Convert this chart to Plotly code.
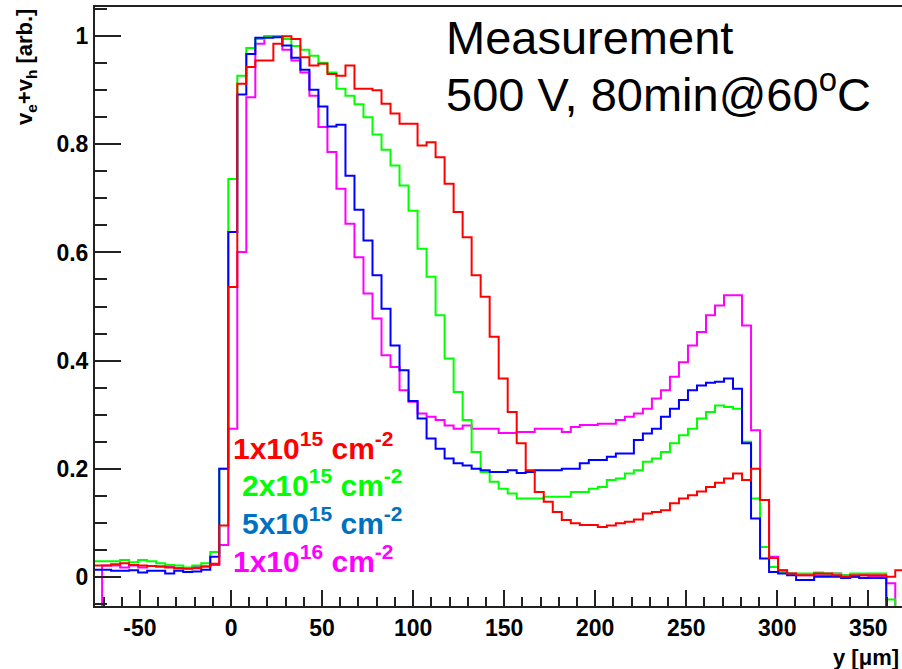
import numpy as np
import plotly.graph_objects as go

# histogram binning (y in micrometres)
BIN_LO = -75.75
BIN_WIDTH = 4.95

red_1e15 = [0.021, 0.021, 0.023, 0.025, 0.022, 0.021, 0.020, 0.019, 0.017, 0.016,
            0.015, 0.016, 0.019, 0.024, 0.095, 0.536, 0.912, 0.943, 0.955, 0.955,
            0.986, 1.000, 0.995, 0.961, 0.946, 0.949, 0.930, 0.927, 0.946, 0.903,
            0.903, 0.900, 0.875, 0.857, 0.838, 0.838, 0.798, 0.804, 0.776, 0.727,
            0.675, 0.628, 0.558, 0.518, 0.444, 0.367, 0.305, 0.247, 0.197, 0.157,
            0.139, 0.120, 0.105, 0.099, 0.096, 0.096, 0.092, 0.095, 0.099, 0.102,
            0.106, 0.117, 0.120, 0.123, 0.136, 0.145, 0.151, 0.158, 0.166, 0.174,
            0.182, 0.191, 0.179, 0.200, 0.142, 0.035, 0.012, 0.006, 0.003, 0.003,
            0.006, 0.006, 0.003, 0.000, 0.003, 0.003, 0.003, 0.003, 0.000, 0.012]

green_2e15 = [0.029, 0.029, 0.029, 0.031, 0.027, 0.031, 0.029, 0.025, 0.022, 0.021,
              0.017, 0.021, 0.025, 0.046, 0.200, 0.736, 0.927, 0.978, 0.995, 1.000,
              1.000, 0.995, 0.982, 0.975, 0.964, 0.951, 0.933, 0.903, 0.890, 0.874,
              0.850, 0.818, 0.790, 0.761, 0.724, 0.677, 0.607, 0.555, 0.484, 0.404,
              0.342, 0.290, 0.231, 0.194, 0.176, 0.163, 0.154, 0.145, 0.145, 0.145,
              0.148, 0.148, 0.148, 0.157, 0.157, 0.163, 0.166, 0.179, 0.182, 0.191,
              0.197, 0.213, 0.219, 0.231, 0.247, 0.262, 0.274, 0.293, 0.305, 0.317,
              0.314, 0.311, 0.250, 0.145, 0.055, 0.018, 0.009, 0.006, 0.006, 0.006,
              0.008, 0.006, 0.006, 0.003, 0.006, 0.006, 0.006, 0.006, -0.042, -0.100]

blue_5e15 = [0.013, 0.013, 0.011, 0.011, 0.012, 0.008, 0.011, 0.011, 0.006, 0.011,
             0.009, 0.010, 0.013, 0.037, 0.200, 0.638, 0.892, 0.967, 0.997, 0.997,
             0.998, 0.983, 0.960, 0.938, 0.901, 0.870, 0.833, 0.836, 0.742, 0.679,
             0.622, 0.558, 0.496, 0.428, 0.382, 0.325, 0.293, 0.256, 0.237, 0.219,
             0.210, 0.206, 0.200, 0.197, 0.194, 0.194, 0.197, 0.192, 0.194, 0.197,
             0.197, 0.197, 0.200, 0.200, 0.210, 0.216, 0.216, 0.222, 0.228, 0.228,
             0.253, 0.265, 0.274, 0.296, 0.311, 0.327, 0.345, 0.354, 0.359, 0.361,
             0.367, 0.348, 0.247, 0.108, 0.034, 0.009, 0.006, 0.003, -0.006, -0.006,
             0.000, 0.000, 0.000, -0.002, 0.000, -0.002, -0.002, -0.002, -0.100, -0.100]

magenta_1e16 = [-0.100, 0.021, 0.021, 0.017, 0.021, 0.017, 0.020, 0.019, 0.018, 0.016,
                0.016, 0.018, 0.019, 0.022, 0.059, 0.274, 0.601, 0.887, 0.986, 1.000,
                1.000, 0.975, 0.955, 0.933, 0.890, 0.832, 0.786, 0.718, 0.653, 0.591,
                0.524, 0.478, 0.410, 0.388, 0.345, 0.324, 0.302, 0.296, 0.290, 0.280,
                0.274, 0.280, 0.274, 0.274, 0.274, 0.266, 0.266, 0.268, 0.268, 0.274,
                0.274, 0.274, 0.268, 0.277, 0.281, 0.281, 0.283, 0.283, 0.290, 0.296,
                0.302, 0.311, 0.330, 0.345, 0.370, 0.397, 0.428, 0.453, 0.484, 0.502,
                0.521, 0.521, 0.465, 0.271, 0.142, 0.037, 0.012, 0.006, 0.003, 0.003,
                0.003, 0.003, 0.006, 0.003, 0.000, 0.003, 0.000, 0.000, -0.012, -0.100]

x_ticks = [-50, 0, 50, 100, 150, 200, 250, 300, 350]
x_tick_labels = ["-50", "0", "50", "100", "150", "200", "250", "300", "350"]
y_ticks = [0, 0.2, 0.4, 0.6, 0.8, 1.0]
y_tick_labels = ["0", "0.2", "0.4", "0.6", "0.8", "1"]

series = [
    ("1x10^16", magenta_1e16, "#FF00FF"),
    ("2x10^15", green_2e15, "#00FF00"),
    ("5x10^15", blue_5e15, "#0000FF"),
    ("1x10^15", red_1e15, "#FF0000"),
]

fig = go.Figure()
for name, vals, col in series:
    n = len(vals)
    edges = BIN_LO + BIN_WIDTH * np.arange(n + 1)
    yv = list(vals) + [vals[-1]]
    fig.add_trace(go.Scatter(x=edges, y=yv, mode="lines", line_shape="hv",
                             line=dict(color=col, width=2), name=name,
                             showlegend=False, hoverinfo="skip"))

W, H = 902, 669
ML, MR, MT, MB = 95, 0, 7, 63
PW, PH = W - ML - MR, H - MT - MB


def xp(px):
    return (px - ML) / PW


def yp(py):
    return (H - MB - py) / PH


FONT = "Liberation Sans, Arial, sans-serif"
tickfont = dict(family=FONT, size=23, color="black", weight="bold")

fig.update_layout(
    width=W, height=H,
    margin=dict(l=ML, r=MR, t=MT, b=MB, pad=0),
    paper_bgcolor="white", plot_bgcolor="white",
    xaxis=dict(range=[-74.7, 368.5], showgrid=False, zeroline=False,
               showline=True, linecolor="#222222", linewidth=2, mirror=True,
               ticks="inside", ticklen=16, tickwidth=2, tickcolor="#222222",
               tickvals=x_ticks, ticktext=x_tick_labels, tickfont=tickfont,
               minor=dict(ticks="inside", ticklen=9, tickwidth=2, dtick=10,
                          tick0=0, tickcolor="#222222", showgrid=False)),
    yaxis=dict(range=[-0.054, 1.054], showgrid=False, zeroline=False,
               showline=True, linecolor="#222222", linewidth=2, mirror=False,
               ticks="inside", ticklen=26, tickwidth=2, tickcolor="#222222",
               tickvals=y_ticks, ticktext=y_tick_labels, tickfont=tickfont,
               minor=dict(ticks="inside", ticklen=12, tickwidth=2, dtick=0.05,
                          tick0=0, tickcolor="#222222", showgrid=False)),
)

annots = []
# axis titles
annots.append(dict(text="v<sub>e</sub>+v<sub>h</sub> [arb.]", textangle=-90,
                   xref="paper", yref="paper", x=xp(26), y=yp(7),
                   xanchor="center", yanchor="top", showarrow=False,
                   font=dict(family=FONT, size=22, color="black", weight="bold")))
annots.append(dict(text="y [\u03bcm]", xref="paper", yref="paper",
                   x=xp(901), y=yp(657), xanchor="right", yanchor="middle",
                   showarrow=False,
                   font=dict(family=FONT, size=22, color="black", weight="bold")))
# measurement conditions
big = dict(family=FONT, size=47, color="black")
annots.append(dict(text="Measurement", xref="paper", yref="paper",
                   x=xp(444), y=yp(37), xanchor="left", yanchor="middle",
                   showarrow=False, font=big))
annots.append(dict(text="500 V, 80min@60<sup>o</sup>C",
                   xref="paper", yref="paper",
                   x=xp(444), y=yp(91), xanchor="left", yanchor="middle",
                   showarrow=False, font=big))
# fluence labels
labels = [
    ("1x10<sup>15</sup> cm<sup>-2</sup>", "#FF0000", 231, 446),
    ("2x10<sup>15</sup> cm<sup>-2</sup>", "#00FF00", 240, 483),
    ("5x10<sup>15</sup> cm<sup>-2</sup>", "#0070C0", 240, 521),
    ("1x10<sup>16</sup> cm<sup>-2</sup>", "#FF00FF", 231, 559),
]
for txt, col, px, py in labels:
    annots.append(dict(text=txt, xref="paper", yref="paper", x=xp(px), y=yp(py),
                       xanchor="left", yanchor="middle", showarrow=False,
                       font=dict(family=FONT, size=30, color=col, weight="bold")))
fig.update_layout(annotations=annots)

fig.write_html("out.html")
